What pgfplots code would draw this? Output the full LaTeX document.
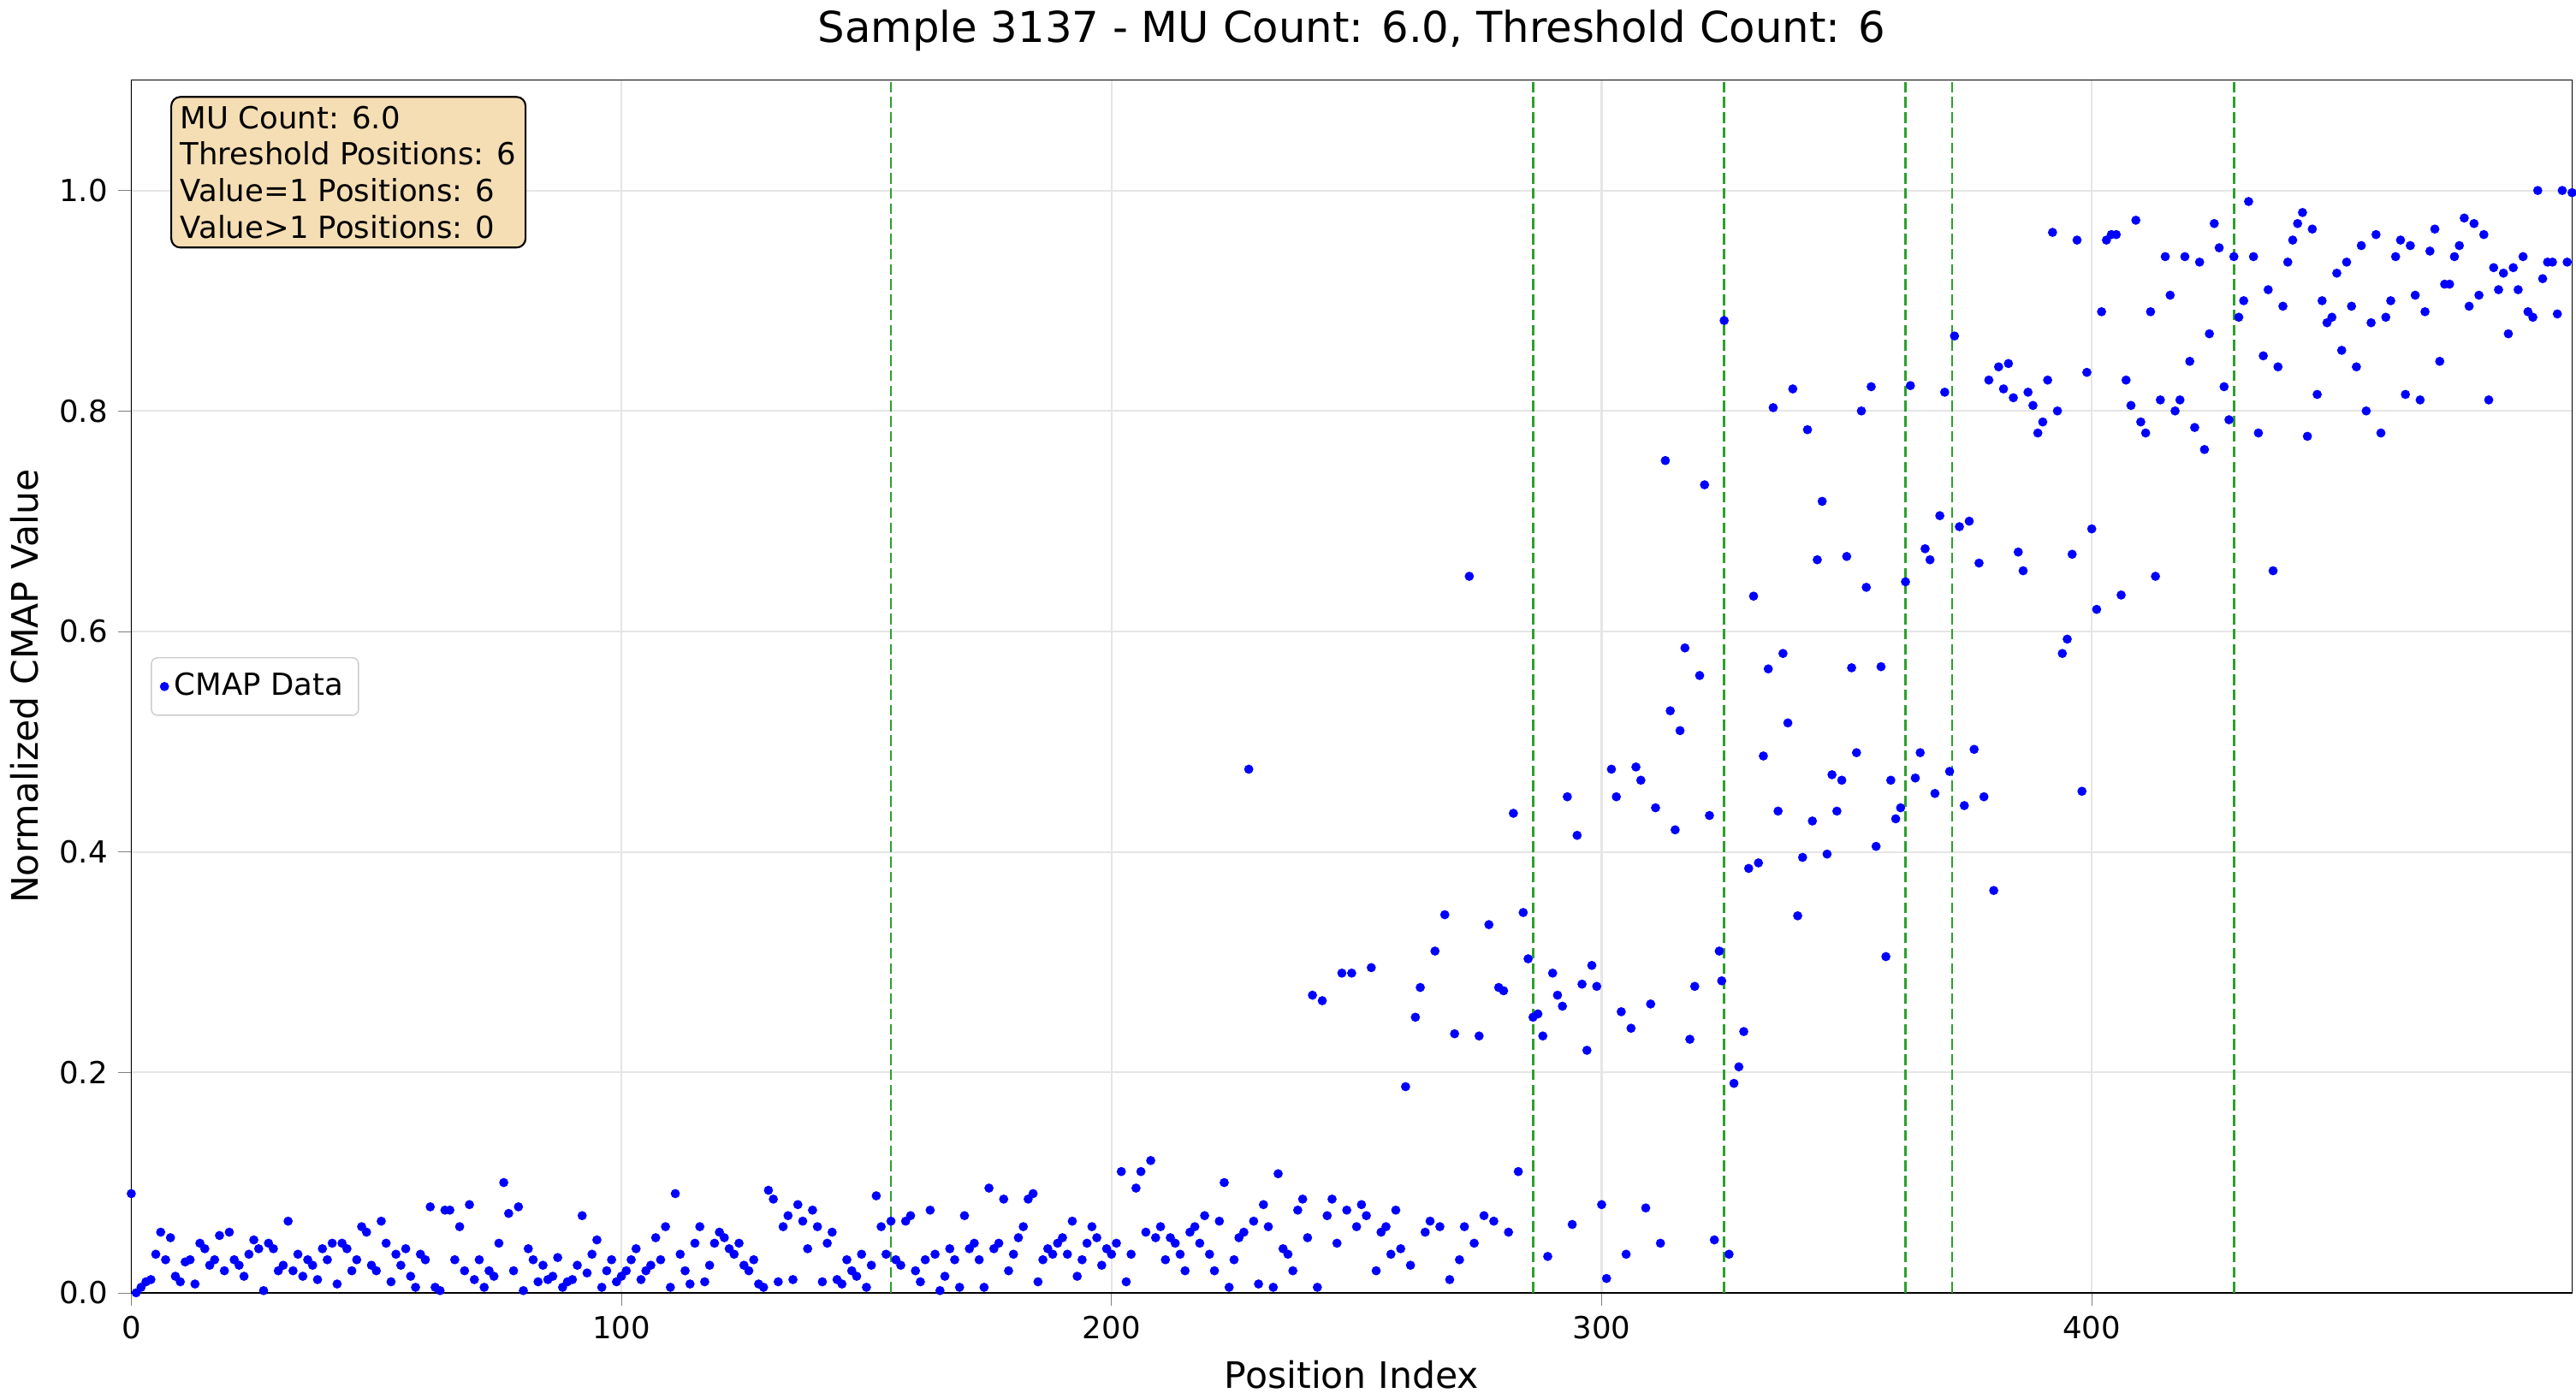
\documentclass[border=0pt]{standalone}
\usepackage{pgfplots}
\pgfplotsset{compat=1.18}
\usepackage{fontspec}
\setmainfont{DejaVu Sans}
\definecolor{mgreen}{RGB}{44,160,44}
\definecolor{wheat}{RGB}{245,222,179}
\begin{document}
\begin{tikzpicture}
\begin{axis}[
  width=803pt, height=399pt, scale only axis,
  xmin=0, xmax=498, ymin=0, ymax=1.1,
  xtick={0,100,200,300,400}, ytick={0,0.2,0.4,0.6,0.8,1.0},
  yticklabel style={/pgf/number format/fixed,/pgf/number format/fixed zerofill,/pgf/number format/precision=1},
  /pgf/number format/assume math mode=true,
  ticklabel style={font=\fontsize{10}{12}\selectfont},
  grid=major, grid style={gray!20, line width=0.6pt},
  tick align=outside, tick pos=left,
  xlabel={Position Index}, ylabel={Normalized CMAP Value},
  label style={font=\fontsize{12}{14}\selectfont},
  title={Sample 3137 - MU Count: 6.0, Threshold Count: 6},
  title style={font=\fontsize{14}{16}\selectfont},
  legend style={at={(0.008,0.5)}, anchor=west, font=\fontsize{10}{12}\selectfont, draw=gray!40, rounded corners=2pt, inner sep=3pt},
  legend image code/.code={\draw[mark repeat=2,mark phase=2] plot coordinates {(0cm,0cm) (0.35cm,0cm) (0.7cm,0cm)};},
  clip=true,
]
\addplot[only marks, mark=*, mark size=1.3pt, color=blue] table {
x y
0 0.09
1 0.0
2 0.005
3 0.01
4 0.012
5 0.035
6 0.055
7 0.03
8 0.05
9 0.015
10 0.01
11 0.028
12 0.03
13 0.008
14 0.045
15 0.04
16 0.025
17 0.03
18 0.052
19 0.02
20 0.055
21 0.03
22 0.025
23 0.015
24 0.035
25 0.048
26 0.04
27 0.002
28 0.045
29 0.04
30 0.02
31 0.025
32 0.065
33 0.02
34 0.035
35 0.015
36 0.03
37 0.025
38 0.012
39 0.04
40 0.03
41 0.045
42 0.008
43 0.045
44 0.04
45 0.02
46 0.03
47 0.06
48 0.055
49 0.025
50 0.02
51 0.065
52 0.045
53 0.01
54 0.035
55 0.025
56 0.04
57 0.015
58 0.005
59 0.035
60 0.03
61 0.078
62 0.005
63 0.002
64 0.075
65 0.075
66 0.03
67 0.06
68 0.02
69 0.08
70 0.012
71 0.03
72 0.005
73 0.02
74 0.015
75 0.045
76 0.1
77 0.072
78 0.02
79 0.078
80 0.002
81 0.04
82 0.03
83 0.01
84 0.025
85 0.012
86 0.015
87 0.032
88 0.005
89 0.01
90 0.012
91 0.025
92 0.07
93 0.018
94 0.035
95 0.048
96 0.005
97 0.02
98 0.03
99 0.01
100 0.015
101 0.02
102 0.03
103 0.04
104 0.012
105 0.02
106 0.025
107 0.05
108 0.03
109 0.06
110 0.005
111 0.09
112 0.035
113 0.02
114 0.008
115 0.045
116 0.06
117 0.01
118 0.025
119 0.045
120 0.055
121 0.05
122 0.04
123 0.035
124 0.045
125 0.025
126 0.02
127 0.03
128 0.008
129 0.005
130 0.093
131 0.085
132 0.01
133 0.06
134 0.07
135 0.012
136 0.08
137 0.065
138 0.04
139 0.075
140 0.06
141 0.01
142 0.045
143 0.055
144 0.012
145 0.008
146 0.03
147 0.02
148 0.015
149 0.035
150 0.005
151 0.025
152 0.088
153 0.06
154 0.035
155 0.065
156 0.03
157 0.025
158 0.065
159 0.07
160 0.02
161 0.01
162 0.03
163 0.075
164 0.035
165 0.002
166 0.015
167 0.04
168 0.03
169 0.005
170 0.07
171 0.04
172 0.045
173 0.03
174 0.005
175 0.095
176 0.04
177 0.045
178 0.085
179 0.02
180 0.035
181 0.05
182 0.06
183 0.085
184 0.09
185 0.01
186 0.03
187 0.04
188 0.035
189 0.045
190 0.05
191 0.035
192 0.065
193 0.015
194 0.03
195 0.045
196 0.06
197 0.05
198 0.025
199 0.04
200 0.035
201 0.045
202 0.11
203 0.01
204 0.035
205 0.095
206 0.11
207 0.055
208 0.12
209 0.05
210 0.06
211 0.03
212 0.05
213 0.045
214 0.035
215 0.02
216 0.055
217 0.06
218 0.045
219 0.07
220 0.035
221 0.02
222 0.065
223 0.1
224 0.005
225 0.03
226 0.05
227 0.055
228 0.475
229 0.065
230 0.008
231 0.08
232 0.06
233 0.005
234 0.108
235 0.04
236 0.035
237 0.02
238 0.075
239 0.085
240 0.05
241 0.27
242 0.005
243 0.265
244 0.07
245 0.085
246 0.045
247 0.29
248 0.075
249 0.29
250 0.06
251 0.08
252 0.07
253 0.295
254 0.02
255 0.055
256 0.06
257 0.035
258 0.075
259 0.04
260 0.187
261 0.025
262 0.25
263 0.277
264 0.055
265 0.065
266 0.31
267 0.06
268 0.343
269 0.012
270 0.235
271 0.03
272 0.06
273 0.65
274 0.045
275 0.233
276 0.07
277 0.334
278 0.065
279 0.277
280 0.274
281 0.055
282 0.435
283 0.11
284 0.345
285 0.303
286 0.25
287 0.253
288 0.233
289 0.033
290 0.29
291 0.27
292 0.26
293 0.45
294 0.062
295 0.415
296 0.28
297 0.22
298 0.297
299 0.278
300 0.08
301 0.013
302 0.475
303 0.45
304 0.255
305 0.035
306 0.24
307 0.477
308 0.465
309 0.077
310 0.262
311 0.44
312 0.045
313 0.755
314 0.528
315 0.42
316 0.51
317 0.585
318 0.23
319 0.278
320 0.56
321 0.733
322 0.433
323 0.048
324 0.31
324.5 0.283
325 0.882
326 0.035
327 0.19
328 0.205
329 0.237
330 0.385
331 0.632
332 0.39
333 0.487
334 0.566
335 0.803
336 0.437
337 0.58
338 0.517
339 0.82
340 0.342
341 0.395
342 0.783
343 0.428
344 0.665
345 0.718
346 0.398
347 0.47
348 0.437
349 0.465
350 0.668
351 0.567
352 0.49
353 0.8
354 0.64
355 0.822
356 0.405
357 0.568
358 0.305
359 0.465
360 0.43
361 0.44
362 0.645
363 0.823
364 0.467
365 0.49
366 0.675
367 0.665
368 0.453
369 0.705
370 0.817
371 0.473
372 0.868
373 0.695
374 0.442
375 0.7
376 0.493
377 0.662
378 0.45
379 0.828
380 0.365
381 0.84
382 0.82
383 0.843
384 0.812
385 0.672
386 0.655
387 0.817
388 0.805
389 0.78
390 0.79
391 0.828
392 0.962
393 0.8
394 0.58
395 0.593
396 0.67
397 0.955
398 0.455
399 0.835
400 0.693
401 0.62
402 0.89
403 0.955
404 0.96
405 0.96
406 0.633
407 0.828
408 0.805
409 0.973
410 0.79
411 0.78
412 0.89
413 0.65
414 0.81
415 0.94
416 0.905
417 0.8
418 0.81
419 0.94
420 0.845
421 0.785
422 0.935
423 0.765
424 0.87
425 0.97
426 0.948
427 0.822
428 0.792
429 0.94
430 0.885
431 0.9
432 0.99
433 0.94
434 0.78
435 0.85
436 0.91
437 0.655
438 0.84
439 0.895
440 0.935
441 0.955
442 0.97
443 0.98
444 0.777
445 0.965
446 0.815
447 0.9
448 0.88
449 0.885
450 0.925
451 0.855
452 0.935
453 0.895
454 0.84
455 0.95
456 0.8
457 0.88
458 0.96
459 0.78
460 0.885
461 0.9
462 0.94
463 0.955
464 0.815
465 0.95
466 0.905
467 0.81
468 0.89
469 0.945
470 0.965
471 0.845
472 0.915
473 0.915
474 0.94
475 0.95
476 0.975
477 0.895
478 0.97
479 0.905
480 0.96
481 0.81
482 0.93
483 0.91
484 0.925
485 0.87
486 0.93
487 0.91
488 0.94
489 0.89
490 0.885
491 1.0
492 0.92
493 0.935
494 0.935
495 0.888
496 1.0
497 0.935
498 0.998
};
\addlegendentry{CMAP Data}
\pgfplotsinvokeforeach{155,286,325,362,371.5,429}{
  \addplot[mgreen, dash pattern=on 3.5pt off 1.5pt, line width=0.8pt, forget plot] coordinates {(#1,0) (#1,1.1)};
}
\node[anchor=north west, fill=wheat, draw=black, rounded corners=3pt, line width=0.6pt,
      align=left, font=\fontsize{10}{12}\selectfont, inner sep=3pt]
  at (rel axis cs:0.016,0.987)
  {MU Count: 6.0\\Threshold Positions: 6\\Value=1 Positions: 6\\Value>1 Positions: 0};
\end{axis}
\end{tikzpicture}
\end{document}
